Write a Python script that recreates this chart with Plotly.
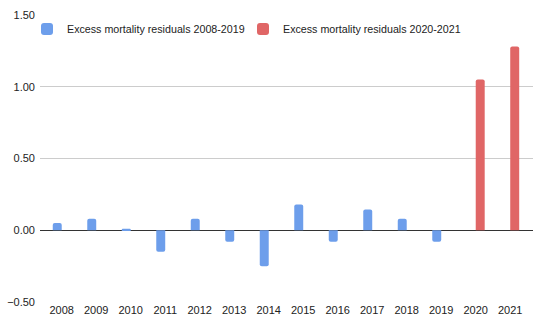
import plotly.graph_objects as go

years = ["2008", "2009", "2010", "2011", "2012", "2013", "2014",
         "2015", "2016", "2017", "2018", "2019", "2020", "2021"]
residuals_2008_2019 = [0.05, 0.08, 0.01, -0.15, 0.08, -0.08, -0.25,
                       0.18, -0.08, 0.145, 0.08, -0.08, None, None]
residuals_2020_2021 = [None] * 12 + [1.05, 1.28]
y_ticks = [-0.5, 0.0, 0.5, 1.0, 1.5]

fig = go.Figure()
fig.add_trace(go.Bar(x=years, y=residuals_2008_2019,
                     name="Excess mortality residuals 2008-2019",
                     marker=dict(color="#6d9eeb", cornerradius=2, line_width=0),
                     legend="legend"))
fig.add_trace(go.Bar(x=years, y=residuals_2020_2021,
                     name="Excess mortality residuals 2020-2021",
                     marker=dict(color="#e06666", cornerradius=2, line_width=0),
                     legend="legend2"))

legend_common = dict(orientation="h", xanchor="left", yanchor="middle",
                     y=1 - 14 / 287, bgcolor="rgba(0,0,0,0)", itemwidth=30,
                     font=dict(size=10.7, color="#222222"))

fig.update_layout(
    width=550, height=334,
    margin=dict(l=40, r=17, t=15, b=32, autoexpand=False),
    paper_bgcolor="white", plot_bgcolor="white",
    barmode="group", bargap=0.48, bargroupgap=0.0,
    font=dict(family="Liberation Sans, Arial, sans-serif", size=11, color="#222222"),
    showlegend=True,
    legend=dict(x=-13 / 493, **legend_common),
    legend2=dict(x=203 / 493, **legend_common),
)
fig.update_xaxes(type="category", range=[-0.63, 13.66], showgrid=False,
                 showline=False, ticks="", automargin=False,
                 tickfont=dict(size=11, color="#222222"))
fig.update_yaxes(range=[-0.5, 1.5], tickvals=y_ticks, tickformat=".2f",
                 showgrid=True, gridcolor="#cccccc", gridwidth=1,
                 zeroline=True, zerolinecolor="#333333", zerolinewidth=1,
                 showline=False, ticks="", ticklabelstandoff=4, automargin=False,
                 tickfont=dict(size=11, color="#222222"))

fig.write_html("out.html", config={"displayModeBar": False},
               post_script="document.body.style.margin='0';")
